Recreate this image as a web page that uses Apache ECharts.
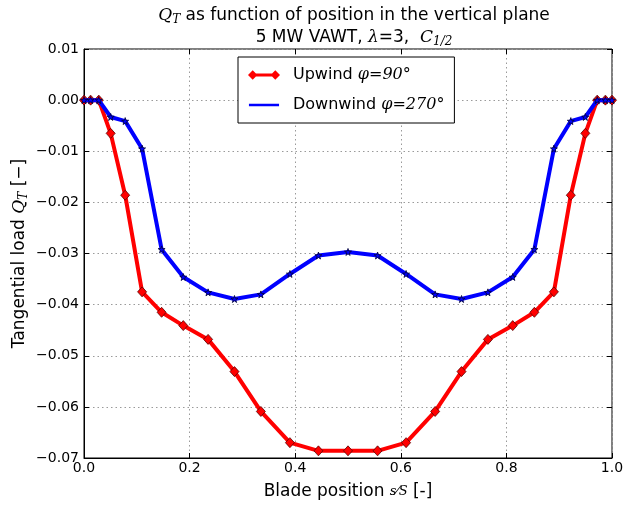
<!DOCTYPE html>
<html><head><meta charset="utf-8">
<script src="https://cdn.jsdelivr.net/npm/echarts@6/dist/echarts.min.js"></script>
<style>html,body{margin:0;padding:0;background:#fff}#c{width:624px;height:505px}</style>
</head><body><div id="c"></div>
<script>
var positions = [0, 0.0125, 0.028, 0.0505, 0.078, 0.11, 0.147, 0.188, 0.235, 0.285, 0.335, 0.39, 0.444, 0.5,
  0.556, 0.61, 0.665, 0.715, 0.765, 0.812, 0.853, 0.89, 0.922, 0.9495, 0.972, 0.9875, 1.0];
var upwind = [0, 0, 0, -0.0065, -0.0186, -0.0375, -0.0415, -0.0441, -0.0468, -0.0531, -0.0609, -0.0670, -0.0686, -0.0686,
  -0.0686, -0.0670, -0.0609, -0.0531, -0.0468, -0.0441, -0.0415, -0.0375, -0.0186, -0.0065, 0, 0, 0];
var downwind = [0, 0, 0, -0.0033, -0.0041, -0.0095, -0.0292, -0.0346, -0.0376, -0.0389, -0.0380, -0.0340, -0.0304, -0.0297,
  -0.0304, -0.0340, -0.0380, -0.0389, -0.0376, -0.0346, -0.0292, -0.0095, -0.0041, -0.0033, 0, 0, 0];
var seriesNames = ['Upwind', 'Downwind'];
var seriesAngles = ['90°', '270°'];

var FONT = 'DejaVu Sans';
var SERIF = 'DejaVu Serif';
var star = 'path://M50,0 L61,35 L98,35 L68,57 L79,91 L50,70 L21,91 L32,57 L2,35 L39,35 Z';
var legendRed = 'path://M0,5 L5,0 L10,5 L5,10 Z M5,3.5 L29,3.5 L29,6.5 L5,6.5 Z M24,5 L29,0 L34,5 L29,10 Z';
var legendBlue = 'path://M1,3.6 L33,3.6 L33,6.4 L1,6.4 Z M0,0 L0.01,0 Z M0,10 L0.01,10 Z M34,0 L34.01,0 Z';

function pairs(ys){ return positions.map(function(x,i){ return [x, ys[i]]; }); }
function fmtY(v){ var s = v.toFixed(2); if (s === '-0.00') s = '0.00'; return s.replace('-', '\u2212'); }

var chart = echarts.init(document.getElementById('c'), null, {renderer:'canvas'});
var gridLine = {show:true, lineStyle:{color:'#9a9a9a', type:[1.5,3], width:1}};
var tick = {show:true, inside:true, length:5, lineStyle:{color:'#000'}};
function rt(extra){ var o = {fontFamily:FONT, fontSize:17, color:'#000', fontWeight:'normal', lineHeight:22}; for (var k in extra) o[k]=extra[k]; return o; }
chart.setOption({
  animation:false,
  backgroundColor:'#fff',
  title:{
    text:'{q|Q}{sub|T}{n| as function of position in the vertical plane}\n{n|5 MW VAWT, }{m|λ}{n|=3,  }{m|C}{sub|1/2}',
    left:349, textAlign:'center', top:0,
    textStyle:{
      fontWeight:'normal',
      rich:{
        n:rt({}),
        q:rt({fontFamily:SERIF, fontStyle:'italic'}),
        m:rt({fontFamily:SERIF, fontStyle:'italic'}),
        sub:rt({fontFamily:SERIF, fontStyle:'italic', fontSize:12, padding:[8,0,0,0]})
      }
    }
  },
  grid:{left:84, right:12, top:49, bottom:47, show:true, borderColor:'#000', borderWidth:1, backgroundColor:'transparent',
        containLabel:false, outerBoundsMode:'none'},
  legend:{
    orient:'vertical', left:238, top:57,
    backgroundColor:'#fff', borderColor:'#000', borderWidth:1, borderRadius:0,
    padding:[10,10,10,10], itemGap:14, itemWidth:32, itemHeight:10,
    itemStyle:{borderWidth:0},
    data:[{name:seriesNames[0], icon:legendRed}, {name:seriesNames[1], icon:legendBlue}],
    formatter:function(name){ var i = seriesNames.indexOf(name); return '{n|'+name+' }{m|φ}{n|=}{m|'+seriesAngles[i]+'}'; },
    textStyle:{
      padding:[0,0,0,8],
      rich:{
        n:{fontFamily:FONT, fontSize:16, color:'#000'},
        m:{fontFamily:SERIF, fontStyle:'italic', fontSize:16, color:'#000'}
      }
    }
  },
  xAxis:[{
    type:'value', min:0, max:1, interval:0.2,
    name:'Blade position {f|s⁄S} [-]', nameLocation:'middle', nameGap:25,
    nameTextStyle:{fontFamily:FONT, fontSize:17, color:'#000',
      rich:{f:{fontFamily:SERIF, fontStyle:'italic', fontSize:13, color:'#000'}}},
    axisLine:{show:true, onZero:false, lineStyle:{color:'#000'}},
    axisTick:tick,
    axisLabel:{formatter:function(v){return v.toFixed(1);}, fontFamily:FONT, fontSize:14, color:'#000', margin:3},
    splitLine:gridLine
  },{
    type:'value', min:0, max:1, interval:0.2, position:'top',
    axisLine:{show:false, onZero:false}, axisTick:tick, axisLabel:{show:false}, splitLine:{show:false}
  }],
  yAxis:[{
    type:'value', min:-0.07, max:0.01, interval:0.01,
    name:'Tangential load {q|Q}{sub|T} [−]', nameLocation:'middle', nameGap:54, nameRotate:90, nameMoveOverlap:false,
    nameTextStyle:{fontFamily:FONT, fontSize:17, color:'#000',
      rich:{
        q:{fontFamily:SERIF, fontStyle:'italic', fontSize:17, color:'#000'},
        sub:{fontFamily:SERIF, fontStyle:'italic', fontSize:12, color:'#000', padding:[8,0,0,0]}
      }},
    axisLine:{show:true, onZero:false, lineStyle:{color:'#000'}},
    axisTick:tick,
    axisLabel:{formatter:fmtY, fontFamily:FONT, fontSize:14, color:'#000', margin:5},
    splitLine:gridLine
  },{
    type:'value', min:-0.07, max:0.01, interval:0.01, position:'right',
    axisLine:{show:false, onZero:false}, axisTick:tick, axisLabel:{show:false}, splitLine:{show:false}
  }],
  series:[{
    name:seriesNames[0], type:'line', data:pairs(upwind),
    symbol:'diamond', symbolSize:[9,10], showAllSymbol:true,
    lineStyle:{color:'#ff0000', width:4},
    itemStyle:{color:'#ff0000', borderColor:'#5a0000', borderWidth:0.8},
    emphasis:{disabled:true}, z:2
  },{
    name:seriesNames[1], type:'line', data:pairs(downwind),
    symbol:star, symbolSize:7, showAllSymbol:true,
    lineStyle:{color:'#0000ff', width:4},
    itemStyle:{color:'#0000ff', borderColor:'#000033', borderWidth:0.8},
    emphasis:{disabled:true}, z:3
  }]
});
</script></body></html>
